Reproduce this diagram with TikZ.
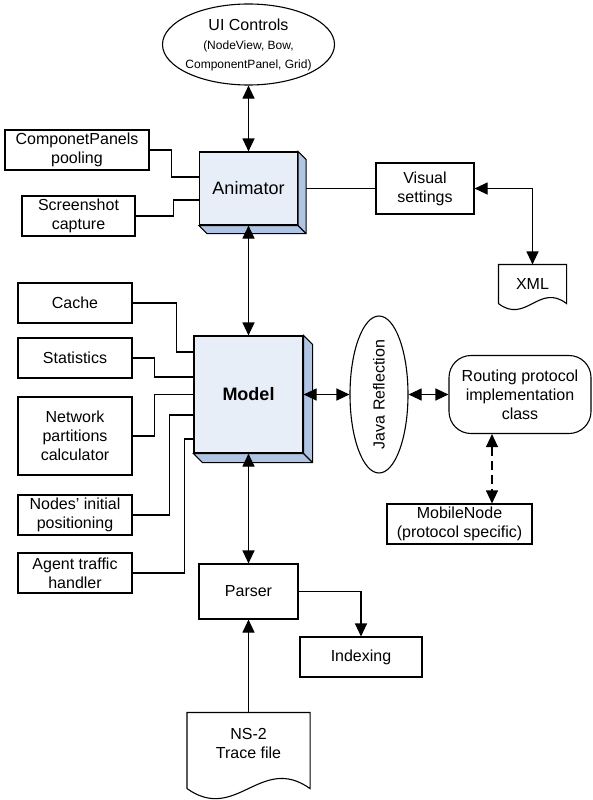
\documentclass[tikz,border=0pt]{standalone}
\usepackage{fontspec}
\setmainfont{Liberation Sans}
\usetikzlibrary{positioning, calc, arrows.meta, shapes.geometric}

\definecolor{facecol}{RGB}{232,238,248}
\definecolor{sidecol}{RGB}{176,196,228}

% right and bottom faces of a raised box
\newcommand{\sidefaces}[2]{%
  \filldraw[fill=sidecol] (#1.north east) -- ([shift={(#2,#2)}]#1.north east)
    -- ([shift={(#2,#2)}]#1.south east) -- ([shift={(#2,#2)}]#1.south west)
    -- (#1.south west) -- (#1.south east) -- cycle;
  \draw (#1.south east) -- ([shift={(#2,#2)}]#1.south east);
}
% page with a wavy bottom
\newcommand{\docwave}[2]{%
  \draw (#1.south west) -- (#1.north west) -- (#1.north east) -- (#1.south east)
    .. controls ($(#1.south west)!0.6!(#1.south east)+(0,-#2)$)
    and ($(#1.south west)!0.4!(#1.south east)+(0,#2)$) .. (#1.south west);
}
\newcommand{\smalltxt}{\fontsize{12}{18}\selectfont}

\tikzset{
  box/.style={draw, fill=white, inner sep=0pt, align=center,
    font=\fontsize{16}{19}\selectfont},
  raised/.style={box, fill=facecol, font=\fontsize{18}{21}\selectfont},
  page/.style={box, draw=none},
  twoway/.style={{Triangle[length=13pt,width=12pt]}-{Triangle[length=13pt,width=12pt]}},
  oneway/.style={-{Triangle[length=13pt,width=12pt]}}
}

\begin{document}
\begin{tikzpicture}[x=1pt, y=-1pt, line width=1.1pt]
      \useasboundingbox (0,0) rectangle (592,800);
      % top part
      \node[box, ellipse, minimum width=172, minimum height=81, inner xsep=-15pt] (ui) at (248.5,44.5)
        {UI Controls\\\smalltxt (NodeView, Bow,\\\smalltxt ComponentPanel, Grid)};
      \node[raised, minimum width=98, minimum height=73] (anim) at (248.5,188.5) {Animator};
      \node[box, minimum width=144, minimum height=40] (panels) at (77,150) {ComponetPanels\\pooling};
      \node[box, minimum width=113, minimum height=40] (shot) at (78.5,216) {Screenshot\\capture};
      \node[box, minimum width=98, minimum height=51] (vis) at (425,188.5) {Visual\\settings};
      \node[page, minimum width=67, minimum height=38] (xml) at (532.5,284) {XML};
      % middle part
      \node[raised, minimum width=109, minimum height=117] (model) at (248.5,394.5) {\bfseries Model};
      \node[box, minimum width=114, minimum height=40] (cache) at (75,303) {Cache};
      \node[box, minimum width=114, minimum height=40] (stats) at (75,358) {Statistics};
      \node[box, minimum width=114, minimum height=78] (net) at (75,436) {Network\\partitions\\calculator};
      \node[box, minimum width=114, minimum height=40] (init) at (75,515) {Nodes' initial\\positioning};
      \node[box, minimum width=114, minimum height=40] (agent) at (75,573) {Agent traffic\\handler};
      \node[box, ellipse, minimum width=58, minimum height=157] (java) at (379,394.5)
        {\rotatebox{90}{Java Reflection}};
      \node[box, rounded corners=22pt, minimum width=142, minimum height=78] (route) at (520,394.5)
        {Routing protocol\\implementation\\class};
      \node[box, minimum width=145, minimum height=40] (mobile) at (459.5,524) {MobileNode\\(protocol specific)};
      % bottom part
      \node[box, minimum width=99, minimum height=55] (parser) at (248.5,591.5) {Parser};
      \node[box, minimum width=122, minimum height=40] (index) at (361,657) {Indexing};
      \node[page, minimum width=122, minimum height=75, text depth=14pt] (trace) at (248.5,750.5) {NS-2\\Trace file};
      \sidefaces{anim}{8}
      \sidefaces{model}{9}
      \docwave{xml}{21}
      \docwave{trace}{35}
      % connectors
      \draw[twoway] (ui.south) -- (anim.north);
      \draw[twoway] (anim.south) -- (model.north);
      \draw (panels.east) -- ++(22,0) |- ([yshift=11.5pt]anim.west);
      \draw (shot.east) -- ++(38,0) |- ([yshift=-11.5pt]anim.west);
      \draw ([xshift=8pt]anim.east) -- (vis.west);
      \draw[twoway] (vis.east) -| (xml.north);
      \draw (cache.east) -- ++(44,0) |- ([yshift=42.5pt]model.west);
      \draw (stats.east) -- ++(22,0) |- ([yshift=17.5pt]model.west);
      \draw (net.east) -- ++(22,0) |- (model.west);
      \draw (init.east) -- ++(37,0) |- ([yshift=-20.5pt]model.west);
      \draw (agent.east) -- ++(52,0) |- ([yshift=-44.5pt]model.west);
      \draw[twoway] (model.east) -- (java.west);
      \draw[twoway] (java.east) -- (route.west);
      \draw[twoway, dash pattern=on 9pt off 5pt] ([xshift=-28pt]route.south) -- ([xshift=-28pt]route.south |- mobile.north);
      \draw[twoway] (model.south) -- (parser.north);
      \draw[oneway] (parser.east) -| (index.north);
      \draw[oneway] (trace.north) -- (parser.south);
\end{tikzpicture}
\end{document}
